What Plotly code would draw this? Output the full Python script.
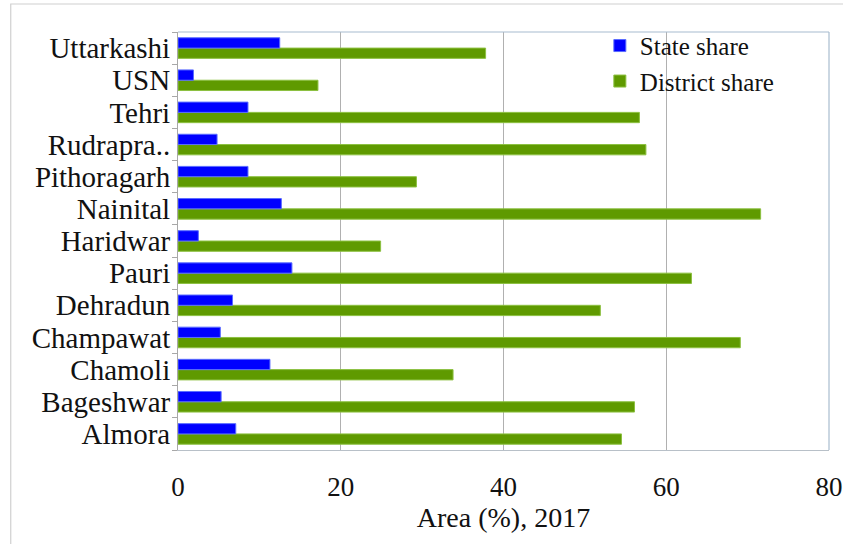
import plotly.graph_objects as go

districts = ["Almora", "Bageshwar", "Chamoli", "Champawat", "Dehradun", "Pauri",
             "Haridwar", "Nainital", "Pithoragarh", "Rudrapra..", "Tehri", "USN", "Uttarkashi"]
state_share = [7.1, 5.3, 11.3, 5.2, 6.7, 14.0, 2.5, 12.7, 8.6, 4.8, 8.6, 1.9, 12.5]
district_share = [54.5, 56.1, 33.8, 69.1, 51.9, 63.1, 24.9, 71.6, 29.3, 57.5, 56.7, 17.2, 37.8]
x_ticks = [0, 20, 40, 60, 80]

FONT = "Liberation Serif, Times New Roman, serif"

fig = go.Figure()
fig.add_trace(go.Bar(
    y=districts, x=district_share, orientation="h", name="District share",
    marker=dict(color="#5f9a00", line=dict(color="#8cc040", width=1)),
    legendgroup="b", legendrank=2,
))
fig.add_trace(go.Bar(
    y=districts, x=state_share, orientation="h", name="State share",
    marker=dict(color="#0000ff", line=dict(color="#5a6cff", width=1)),
    legendgroup="a", legendrank=1,
))

fig.update_layout(
    width=843, height=544,
    margin=dict(l=178, r=14, t=32, b=94, autoexpand=False),
    paper_bgcolor="white", plot_bgcolor="white",
    barmode="group", bargap=0.36, bargroupgap=0,
    font=dict(family=FONT, size=24, color="#111111"),
    showlegend=True,
    legend=dict(x=0.648, y=1.022, xanchor="left", yanchor="top",
                bgcolor="rgba(0,0,0,0)", font=dict(family=FONT, size=25),
                traceorder="grouped", tracegroupgap=0, itemwidth=30),
    xaxis=dict(range=[0, 80], tickvals=x_ticks, showgrid=True, gridcolor="#b0b0b0",
               gridwidth=1.2, zeroline=False, showline=True, linecolor="#b8c0c8",
               ticks="", tickfont=dict(family=FONT, size=27), ticklabelstandoff=13,
               automargin=False,
               title=dict(text="Area (%), 2017", font=dict(family=FONT, size=28), standoff=0),
               mirror=False),
    yaxis=dict(categoryorder="array", categoryarray=districts, showgrid=False,
               tickmode="array", tickvals=districts, ticktext=districts,
               showline=True, linecolor="#a8a8a8", ticks="outside", tickson="boundaries",
               ticklen=5, tickcolor="#a8a8a8", tickfont=dict(family=FONT, size=29),
               ticklabelstandoff=1, automargin=False),
    shapes=[
        dict(type="line", xref="paper", yref="paper", x0=0, x1=1, y0=1, y1=1,
             line=dict(color="#a8bccf", width=1.2)),
        dict(type="line", xref="paper", yref="paper", x0=1, x1=1, y0=0, y1=1,
             line=dict(color="#a8bccf", width=1.2)),
        dict(type="rect", xref="paper", yref="paper",
             x0=(11 - 178) / 650, x1=1.04, y0=-0.25, y1=1 + 28 / 418,
             line=dict(color="#d0d0d0", width=1.2), layer="below"),
    ],
)

fig.write_html("out.html", config={"displayModeBar": False},
               post_script="document.body.style.margin='0px';")
